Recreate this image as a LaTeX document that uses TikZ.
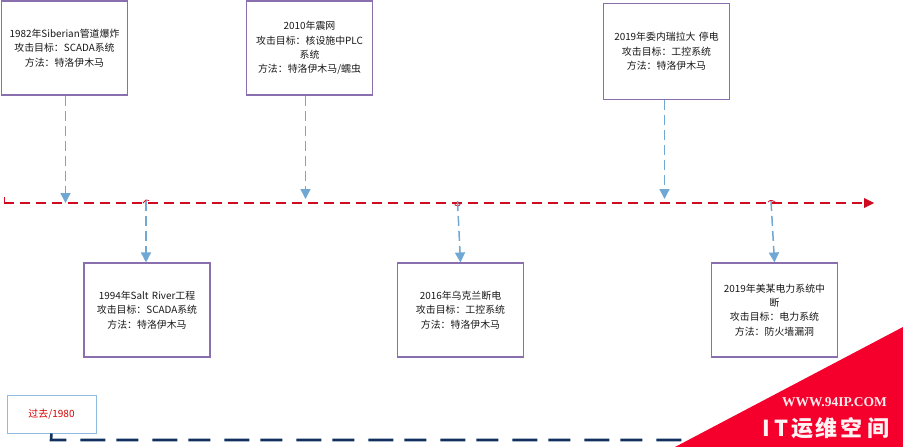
\documentclass[tikz,border=0pt]{standalone}
\usepackage{fontspec}
\setmainfont{Noto Sans CJK SC}
\newfontfamily\wmserif{Liberation Serif}
\usetikzlibrary{arrows.meta}
\definecolor{boxpurple}{HTML}{8A6FAE}
\definecolor{arrowblue}{HTML}{6FA8D4}
\definecolor{linered}{HTML}{D00A20}
\definecolor{navyline}{HTML}{12305F}
\definecolor{pastblue}{HTML}{8FBBE3}
\definecolor{wmred}{HTML}{F5002D}
\tikzset{
  x=1pt,y=-1pt,
  eventbox/.style={draw=boxpurple,line width=1.1pt,fill=white,minimum width=126pt,minimum height=94pt,inner sep=0pt,
    align=center,font=\fontsize{9.9pt}{14.3pt}\selectfont,text=black!90,text width=124pt},
  linkarrow/.style={draw=arrowblue,line width=1.5pt,dash pattern=on 10pt off 5pt,
    -{Triangle[length=10pt,width=10pt,fill=arrowblue]}},
  timeline/.style={draw=linered,line width=1.4pt,dash pattern=on 10pt off 6pt},
  jump/.style={draw=linered,line width=.8pt},
  pastbox/.style={draw=pastblue,line width=1pt,fill=white,minimum width=89pt,minimum height=38pt,inner sep=0pt,
    font=\fontsize{10pt}{12pt}\selectfont,text=red!85!black},
  wmurl/.style={font=\wmserif\bfseries\fontsize{13.5pt}{14pt}\selectfont,text=white!92!red},
  wmname/.style={font=\bfseries\fontsize{22pt}{24pt}\selectfont,text=white!95!red},
}
\begin{document}
\begin{tikzpicture}
\useasboundingbox (0,0) rectangle (903,447);
% time line
\coordinate (tl0) at (4,203);
\coordinate (tl0up) at (4,197);
\coordinate (tl1) at (864,203);
\draw[jump] (tl0up) -- (tl0);
\draw[timeline] (tl0) -- (tl1);
\fill[linered] (864,198) -- (874,203) -- (864,208) -- cycle;
% jumps
\coordinate (j4) at (146,201);
\coordinate (j5) at (457.5,201);
\coordinate (j6) at (771,201);
\draw[jump] (143,203) -- (146,200) -- (149,200.5);
\draw[jump] (454.5,203) arc[start angle=180,end angle=0,radius=3];
\draw[jump] (768,202) .. controls (770,199.5) and (773,200) .. (776,203);
% boxes
\node[eventbox] (b1) at (64.5,48) {1982年Siberian管道爆炸\\攻击目标：SCADA系统\\方法：特洛伊木马\\[16pt]};
\node[eventbox] (b2) at (309.5,48) {2010年震网\\攻击目标：核设施中PLC\\系统\\方法：特洛伊木马/蠕虫};
\node[eventbox,minimum height=96pt] (b3) at (666.5,51.5) {2019年委内瑞拉大 停电\\攻击目标：工控系统\\方法：特洛伊木马};
\node[eventbox] (b4) at (147,310) {1994年Salt River工程\\攻击目标：SCADA系统\\方法：特洛伊木马};
\node[eventbox] (b5) at (460.5,310) {2016年乌克兰断电\\攻击目标：工控系统\\方法：特洛伊木马};
\node[eventbox] (b6) at (774.5,310) {2019年美某电力系统中\\断\\攻击目标：电力系统\\方法：防火墙漏洞};
% connectors
\coordinate (t1) at (65.5,203);
\coordinate (t2) at (305.5,199);
\coordinate (t3) at (664.5,199);
\draw[linkarrow] (t1 |- b1.south) -- (t1);
\draw[linkarrow] (t2 |- b2.south) -- (t2);
\draw[linkarrow] (t3 |- b3.south) -- (t3);
\draw[linkarrow] (j4) -- (j4 |- b4.north);
\draw[linkarrow] (j5) -- (b5.north);
\draw[linkarrow] (j6) -- (b6.north);
% past
\node[pastbox] (past) at (51.5,414) {过去/1980};
\coordinate (n1) at (51,440);
\coordinate (n2) at (690,440);
\draw[navyline,line width=2.6pt,dash pattern=on 22pt off 14pt on 25pt off 11pt] (past.south) -- (n1) -- (n2);
% watermark
\fill[wmred] (903,327) -- (675,447) -- (903,447) -- cycle;
\node[wmurl,anchor=center] (url) at (834.5,402) {WWW.94IP.COM};
\node[wmname,anchor=center] (name) at (826,428) {I\hspace{4pt}T\hspace{3pt}运\hspace{2pt}维\hspace{3pt}空\hspace{5pt}间};
\end{tikzpicture}
\end{document}
